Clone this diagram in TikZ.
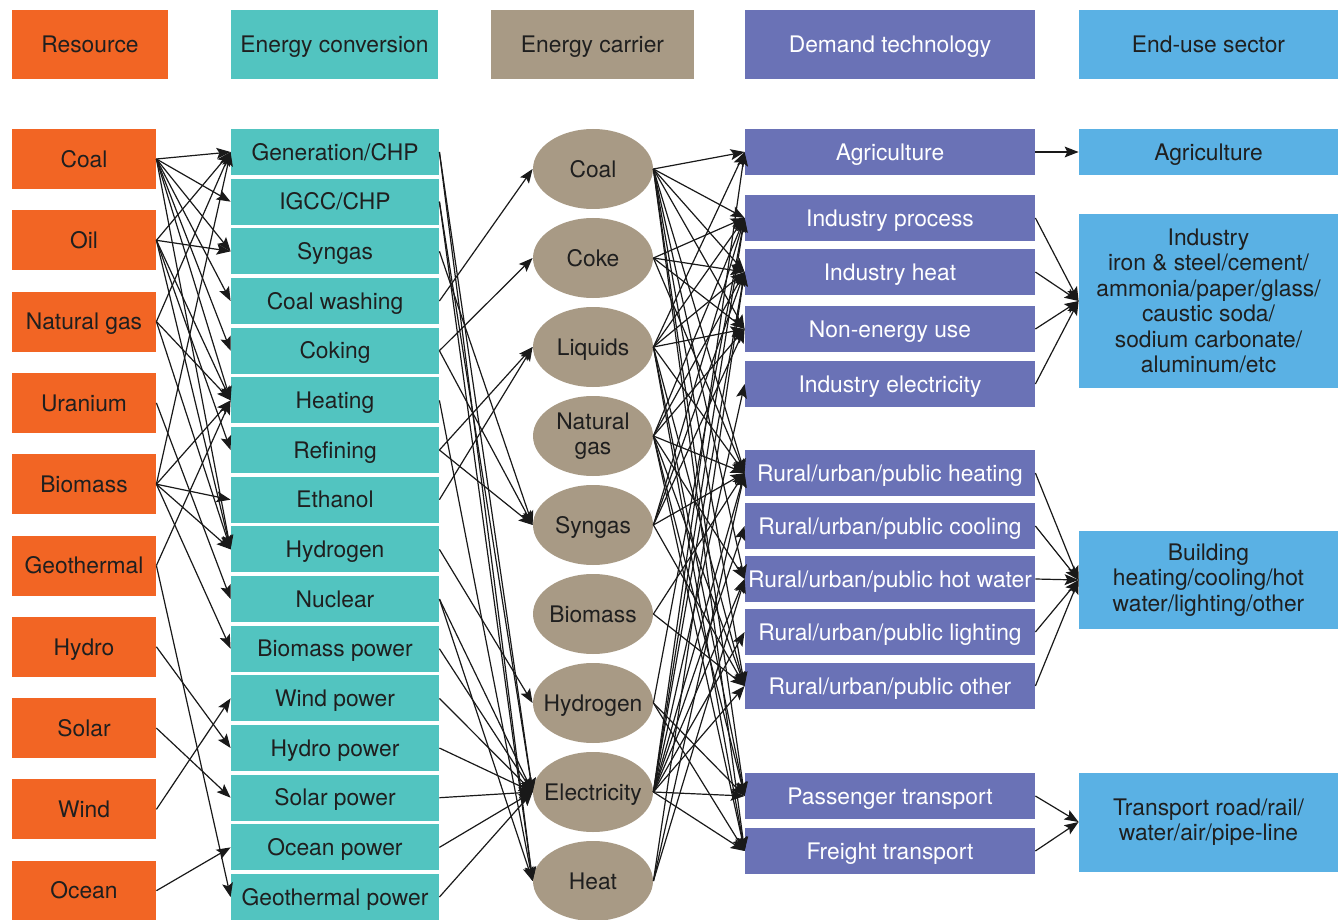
\documentclass[tikz,border=0pt]{standalone}
\usepackage{fontspec}
\setmainfont{TeX Gyre Heros}
\usetikzlibrary{arrows.meta,shapes.geometric}

\definecolor{resorange}{HTML}{F26524}
\definecolor{convteal}{HTML}{52C4C0}
\definecolor{carriertan}{HTML}{A89A85}
\definecolor{demandblue}{HTML}{6A72B6}
\definecolor{enduseblue}{HTML}{5AB1E4}

\tikzset{
  box/.style={inner sep=1pt, align=center, font=\fontsize{11.4}{12.7}\selectfont, text=black!88},
  oneline/.style={text height=8.2pt, text depth=0pt},
  resbox/.style={box, oneline, fill=resorange, minimum width=72pt, minimum height=30pt},
  convbox/.style={box, oneline, fill=convteal, minimum width=104pt, minimum height=23pt},
  carrier/.style={box, ellipse, fill=carriertan, minimum width=60pt, minimum height=40pt,
    inner xsep=-12pt, inner ysep=-3pt},
  demandbox/.style={box, oneline, fill=demandblue, text=white, minimum width=145pt, minimum height=23pt},
  endusebox/.style={box, fill=enduseblue, minimum width=129.5pt},
  header/.style={oneline, minimum height=34.5pt},
  link/.style={draw=black!90, line width=0.6pt, -{Stealth[length=7pt,width=5.4pt,inset=1.4pt]}}
}

\begin{document}
\begin{tikzpicture}[x=0.5pt,y=-0.5pt]
\useasboundingbox (0,0) rectangle (1340,920);

% headers
\node[resbox,header,minimum width=78pt] (hdRes) at (90,44.5) {Resource};
\node[convbox,header,minimum width=103.5pt] (hdConv) at (334.5,44.5) {Energy conversion};
\node[box,header,fill=carriertan,minimum width=101.5pt] (hdCarrier) at (592.5,44.5) {Energy carrier};
\node[demandbox,header] (hdDemand) at (890,44.5) {Demand technology};
\node[endusebox,header] (hdEnduse) at (1208.5,44.5) {End-use sector};

% resources
\foreach \n/\t [count=\i] in {resCoal/Coal, resOil/Oil, resGas/Natural gas, resU/Uranium,
    resBio/Biomass, resGeo/Geothermal, resHydro/Hydro, resSolar/Solar, resWind/Wind, resOcean/Ocean}
  \node[resbox] (\n) at (84,{159+81.3*(\i-1)}) {\t};

% energy conversion
\foreach \n/\t [count=\i] in {cvGen/{Generation/CHP}, cvIgcc/{IGCC/CHP}, cvSyngas/Syngas,
    cvWash/Coal washing, cvCoking/Coking, cvHeating/Heating, cvRefining/Refining,
    cvEthanol/Ethanol, cvHydrogen/Hydrogen, cvNuclear/Nuclear, cvBiopow/Biomass power,
    cvWindpow/Wind power, cvHydropow/Hydro power, cvSolarpow/Solar power,
    cvOceanpow/Ocean power, cvGeopow/Geothermal power}
  \node[convbox] (\n) at (335,{152+49.67*(\i-1)}) {\t};

% energy carriers
\foreach \n/\t/\y in {caCoal/Coal/169, caCoke/Coke/258, caLiquids/Liquids/347,
    caSyngas/Syngas/525, caBio/Biomass/614, caH2/Hydrogen/703, caElec/Electricity/792, caHeat/Heat/881}
  \node[carrier,oneline] (\n) at (593,\y) {\t};
\node[carrier] (caGas) at (593,436) {Natural\\gas};

% demand technologies
\foreach \n/\t/\y in {dtAgri/Agriculture/152, dtProc/Industry process/218, dtHeat/Industry heat/272,
    dtNonen/Non-energy use/329, dtElec/Industry electricity/384,
    dtRheat/{Rural/urban/public heating}/473, dtRcool/{Rural/urban/public cooling}/526,
    dtRwater/{Rural/urban/public hot water}/579, dtRlight/{Rural/urban/public lighting}/632,
    dtRother/{Rural/urban/public other}/686, dtPass/Passenger transport/796,
    dtFreight/Freight transport/851}
  \node[demandbox] (\n) at (890,\y) {\t};

% end-use sectors
\node[endusebox,oneline,minimum height=23pt] (euAgri) at (1208.5,152) {Agriculture};
\node[endusebox,minimum height=87pt] (euInd) at (1208.5,301)
  {Industry\\iron \& steel/cement/\\ammonia/paper/glass/\\caustic soda/\\sodium carbonate/\\aluminum/etc};
\node[endusebox,minimum height=49pt] (euBld) at (1208.5,580)
  {Building\\heating/cooling/hot\\water/lighting/other};
\node[endusebox,minimum height=49.5pt] (euTrans) at (1208.5,822)
  {Transport road/rail/\\water/air/pipe-line};

% resource -> conversion
\foreach \a/\b in {resCoal/cvGen, resCoal/cvIgcc, resCoal/cvSyngas, resCoal/cvWash, resCoal/cvCoking,
    resCoal/cvHeating, resCoal/cvHydrogen, resOil/cvGen, resOil/cvSyngas, resOil/cvHeating,
    resOil/cvRefining, resOil/cvHydrogen, resGas/cvGen, resGas/cvHeating, resGas/cvHydrogen,
    resU/cvNuclear, resBio/cvGen, resBio/cvHeating, resBio/cvEthanol, resBio/cvHydrogen,
    resBio/cvBiopow, resGeo/cvHeating, resGeo/cvGeopow, resHydro/cvHydropow,
    resSolar/cvSolarpow, resWind/cvWindpow, resOcean/cvOceanpow}
  \draw[link] (\a.east) -- (\b.west);

% conversion -> carrier
\foreach \a/\b in {cvGen/caElec, cvGen/caHeat, cvIgcc/caElec, cvIgcc/caHeat, cvSyngas/caSyngas,
    cvWash/caCoal, cvCoking/caCoke, cvCoking/caSyngas, cvHeating/caHeat, cvRefining/caLiquids,
    cvRefining/caSyngas, cvEthanol/caLiquids, cvHydrogen/caH2, cvNuclear/caElec, cvNuclear/caHeat,
    cvBiopow/caElec, cvWindpow/caElec, cvHydropow/caElec, cvSolarpow/caElec,
    cvOceanpow/caElec, cvGeopow/caElec}
  \draw[link] (\a.east) -- (\b.west);

% carrier -> demand
\foreach \a/\b in {caCoal/dtAgri, caCoal/dtProc, caCoal/dtHeat, caCoal/dtNonen, caCoal/dtRheat,
    caCoal/dtRwater, caCoal/dtRother, caCoal/dtPass, caCoal/dtFreight,
    caCoke/dtProc, caCoke/dtHeat, caCoke/dtNonen, caCoke/dtRheat,
    caLiquids/dtAgri, caLiquids/dtProc, caLiquids/dtHeat, caLiquids/dtNonen, caLiquids/dtRheat,
    caLiquids/dtRother, caLiquids/dtPass, caLiquids/dtFreight,
    caGas/dtProc, caGas/dtHeat, caGas/dtNonen, caGas/dtRheat, caGas/dtRwater, caGas/dtRother,
    caGas/dtPass, caGas/dtFreight,
    caSyngas/dtProc, caSyngas/dtHeat, caSyngas/dtNonen, caSyngas/dtRheat, caSyngas/dtRother,
    caBio/dtRheat, caBio/dtRother, caH2/dtProc, caH2/dtPass, caH2/dtFreight,
    caElec/dtAgri, caElec/dtProc, caElec/dtHeat, caElec/dtElec, caElec/dtRheat, caElec/dtRcool,
    caElec/dtRwater, caElec/dtRlight, caElec/dtRother, caElec/dtPass, caElec/dtFreight,
    caHeat/dtHeat, caHeat/dtRheat, caHeat/dtRwater}
  \draw[link] (\a.east) -- (\b.west);

% demand -> end-use
\draw[link] (dtAgri.east) -- (euAgri.west);
\foreach \a in {dtProc, dtHeat, dtNonen, dtElec}
  \draw[link] (\a.east) -- (euInd.west);
\foreach \a in {dtRheat, dtRcool, dtRwater, dtRlight, dtRother}
  \draw[link] (\a.east) -- (euBld.west);
\foreach \a in {dtPass, dtFreight}
  \draw[link] (\a.east) -- (euTrans.west);
\end{tikzpicture}
\end{document}
